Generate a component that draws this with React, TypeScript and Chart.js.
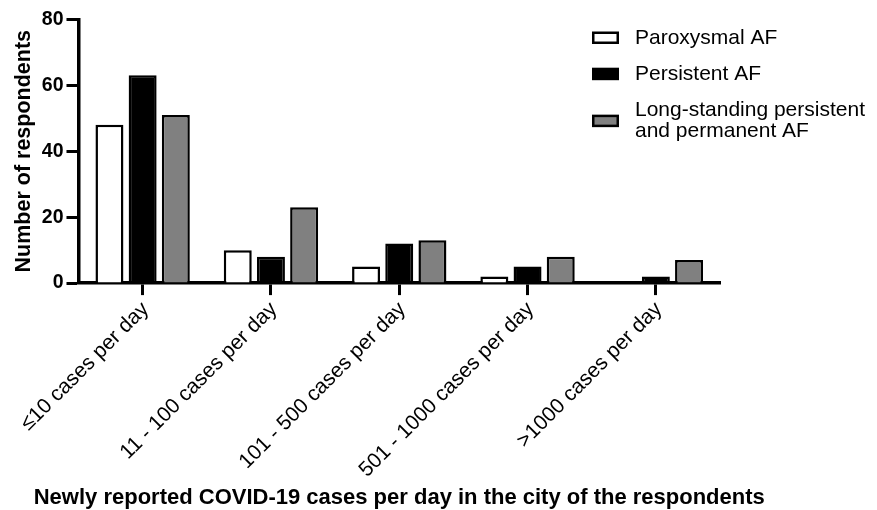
import React, { useEffect, useRef } from "react";
import { Chart, registerables } from "chart.js";

Chart.register(...registerables);

const categories = [
  "≤10 cases per day",
  "11 - 100 cases per day",
  "101 - 500 cases per day",
  "501 - 1000 cases per day",
  ">1000 cases per day",
];
const seriesNames = [
  "Paroxysmal AF",
  "Persistent AF",
  "Long-standing persistent and permanent AF",
];
const legendLines = [
  ["Paroxysmal AF"],
  ["Persistent AF"],
  ["Long-standing persistent", "and permanent AF"],
];
const paroxysmal = [48, 10, 5, 2, 0];
const persistent = [63, 8, 12, 5, 2];
const longStanding = [51, 23, 13, 8, 7];
const yTicks = [0, 20, 40, 60, 80];
const xTitle = "Newly reported COVID-19 cases per day in the city of the respondents";
const yTitle = "Number of respondents";

const FONT = "'Liberation Sans', Arial, Helvetica, sans-serif";
const fills = ["#ffffff", "#000000", "#808080"];

const legendPlugin = {
  id: "customLegend",
  afterDraw(chart: any) {
    const ctx = chart.ctx as CanvasRenderingContext2D;
    const area = chart.chartArea;
    const boxX = area.right - 128;
    const boxW = 27;
    const boxH = 12.5;
    const textX = boxX + 43;
    const lineH = 21.5;
    const gap = 14.7;
    let top = area.top + 7.7;
    ctx.save();
    ctx.font = `21px ${FONT}`;
    ctx.textBaseline = "middle";
    ctx.textAlign = "left";
    legendLines.forEach((lines, i) => {
      const h = lines.length * lineH;
      const cy = top + h / 2;
      ctx.fillStyle = "#000";
      ctx.fillRect(boxX, cy - boxH / 2, boxW, boxH);
      ctx.fillStyle = fills[i];
      ctx.fillRect(boxX + 2.5, cy - boxH / 2 + 2.5, boxW - 5, boxH - 5);
      ctx.fillStyle = "#000";
      lines.forEach((ln, j) => {
        ctx.fillText(ln, textX, top + lineH * j + lineH / 2);
      });
      top += h + gap;
    });
    ctx.restore();
  },
};

// x-axis title drawn without Chart.js' maxWidth squeeze (it is wider than the plot area)
const xTitlePlugin = {
  id: "xTitleWide",
  afterDraw(chart: any) {
    const ctx = chart.ctx as CanvasRenderingContext2D;
    const area = chart.chartArea;
    ctx.save();
    ctx.font = `bold 22px ${FONT}`;
    ctx.fillStyle = "#000";
    ctx.textAlign = "center";
    ctx.textBaseline = "middle";
    ctx.fillText(xTitle, (area.left + area.right) / 2, chart.height - 12);
    ctx.restore();
  },
};

export default function App() {
  const ref = useRef<HTMLCanvasElement | null>(null);
  useEffect(() => {
    if (!ref.current) return;
    const data = [paroxysmal, persistent, longStanding];
    const chart = new Chart(ref.current, {
      type: "bar",
      data: {
        labels: categories,
        datasets: data.map((d, i) => ({
          label: seriesNames[i],
          data: d,
          backgroundColor: fills[i],
          borderColor: "#000",
          borderWidth: 2.5,
          categoryPercentage: 0.776,
          barPercentage: 0.843,
        })),
      },
      options: {
        animation: false,
        responsive: false,
        maintainAspectRatio: false,
        layout: { padding: { left: 9, right: 157, top: 19.3, bottom: 25.5 } },
        plugins: {
          legend: { display: false },
          tooltip: { enabled: false },
        },
        scales: {
          x: {
            grid: {
              display: true,
              drawOnChartArea: false,
              drawTicks: true,
              tickLength: 12,
              tickWidth: 3,
              tickColor: "#000",
              offset: false,
            },
            border: { display: true, color: "#000", width: 3.5 },
            ticks: {
              color: "#000",
              font: { family: FONT, size: 21 },
              minRotation: 45,
              maxRotation: 45,
              padding: 2,
              labelOffset: 3,
              autoSkip: false,
            },
            title: { display: false, text: xTitle },
          },
          y: {
            min: 0,
            max: 80,
            afterBuildTicks: (s: any) => {
              s.ticks = yTicks.map((v) => ({ value: v }));
            },
            ticks: {
              color: "#000",
              font: { family: FONT, size: 19.5, weight: "bold" },
              padding: 3,
            },
            grid: {
              display: true,
              drawOnChartArea: false,
              drawTicks: true,
              tickLength: 12,
              tickWidth: 3,
              tickColor: "#000",
            },
            border: { display: true, color: "#000", width: 3.5 },
            title: {
              display: true,
              text: yTitle,
              color: "#000",
              font: { family: FONT, size: 21.5, weight: "bold" },
              padding: { top: 2, bottom: 2 },
            },
          },
        },
      },
      plugins: [legendPlugin, xTitlePlugin],
    });
    return () => chart.destroy();
  }, []);
  return (
    <div style={{ position: "absolute", left: 0, top: 0, width: 877, height: 510, background: "#fff" }}>
      <canvas ref={ref} width={877} height={510} style={{ display: "block" }} />
    </div>
  );
}
